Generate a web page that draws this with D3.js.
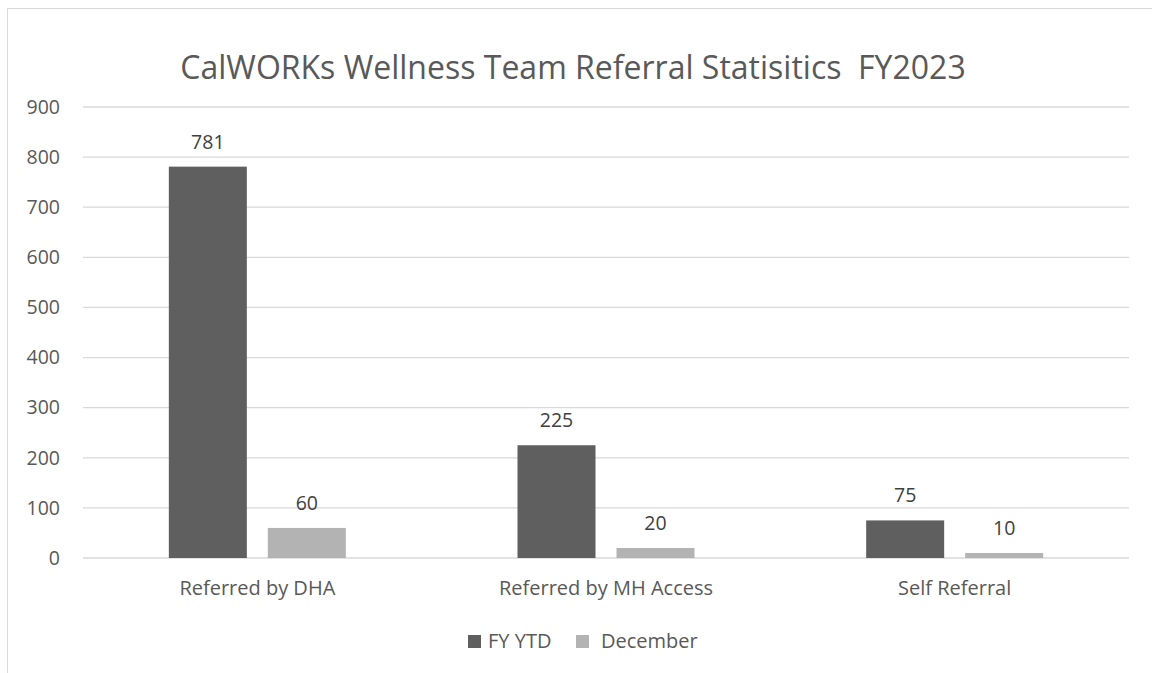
<!DOCTYPE html>
<html><head><meta charset="utf-8">
<script src="https://cdn.jsdelivr.net/npm/d3@7"></script>
<style>body{margin:0;background:#fff}svg{display:block;font-family:"Open Sans",sans-serif}text{white-space:pre}</style>
</head><body><svg id="c" width="1152" height="673"></svg>
<script>
const categories = ["Referred by DHA", "Referred by MH Access", "Self Referral"];
const seriesNames = ["FY YTD", "December"];
const fyYtd = [781, 225, 75];
const december = [60, 20, 10];
const yTicks = [0, 100, 200, 300, 400, 500, 600, 700, 800, 900];
const colors = ["#5f5f5f", "#b3b3b3"];
const title = "CalWORKs Wellness Team Referral Statisitics  FY2023";

const svg = d3.select("#c");
svg.append("rect").attr("x",7.5).attr("y",8.5).attr("width",1160).attr("height",680)
  .attr("fill","#fff").attr("stroke","#d9d9d9");

const L=83, R=1129, T=107, B=558;
const y = d3.scaleLinear().domain([0,900]).range([B,T]);
const x0 = d3.scaleBand().domain(categories).range([L,R]);
const groupW = 177;
const x1 = d3.scaleBand().domain(seriesNames).range([0,groupW]).paddingInner(21/99);

svg.append("g").selectAll("line").data(yTicks).join("line")
  .attr("x1",L).attr("x2",R).attr("y1",d=>y(d)).attr("y2",d=>y(d))
  .attr("stroke","#d9d9d9").attr("stroke-width",1.3);

svg.append("g").selectAll("text").data(yTicks).join("text")
  .attr("x",60).attr("y",d=>y(d)).attr("dy","0.35em").attr("text-anchor","end")
  .attr("font-size",19.5).attr("fill","#595959").text(d=>d);

const data = [fyYtd, december];
const off = (x0.bandwidth()-groupW)/2;
data.forEach((vals,si)=>{
  const g = svg.append("g");
  g.selectAll("rect").data(vals).join("rect")
    .attr("x",(d,i)=>x0(categories[i])+off+x1(seriesNames[si]))
    .attr("width",x1.bandwidth())
    .attr("y",d=>y(d)).attr("height",d=>B-y(d))
    .attr("fill",colors[si]);
  g.selectAll("text").data(vals).join("text")
    .attr("x",(d,i)=>x0(categories[i])+off+x1(seriesNames[si])+x1.bandwidth()/2)
    .attr("y",d=>y(d)-18).attr("text-anchor","middle")
    .attr("font-size",19.5).attr("fill","#404040").text(d=>d);
});

svg.append("g").selectAll("text").data(categories).join("text")
  .attr("x",d=>x0(d)+x0.bandwidth()/2).attr("y",595).attr("text-anchor","middle")
  .attr("font-size",20).attr("fill","#595959").text(d=>d);

svg.append("text").attr("x",573).attr("y",79).attr("text-anchor","middle")
  .attr("font-size",32).attr("fill","#595959").text(title);

const legX=[468,576];
seriesNames.forEach((s,i)=>{
  svg.append("rect").attr("x",legX[i]).attr("y",635).attr("width",13).attr("height",13).attr("fill",colors[i]);
  svg.append("text").attr("x",legX[i]+(i?25:20)).attr("y",648).attr("font-size",20).attr("fill","#595959").text(s);
});
</script></body></html>
